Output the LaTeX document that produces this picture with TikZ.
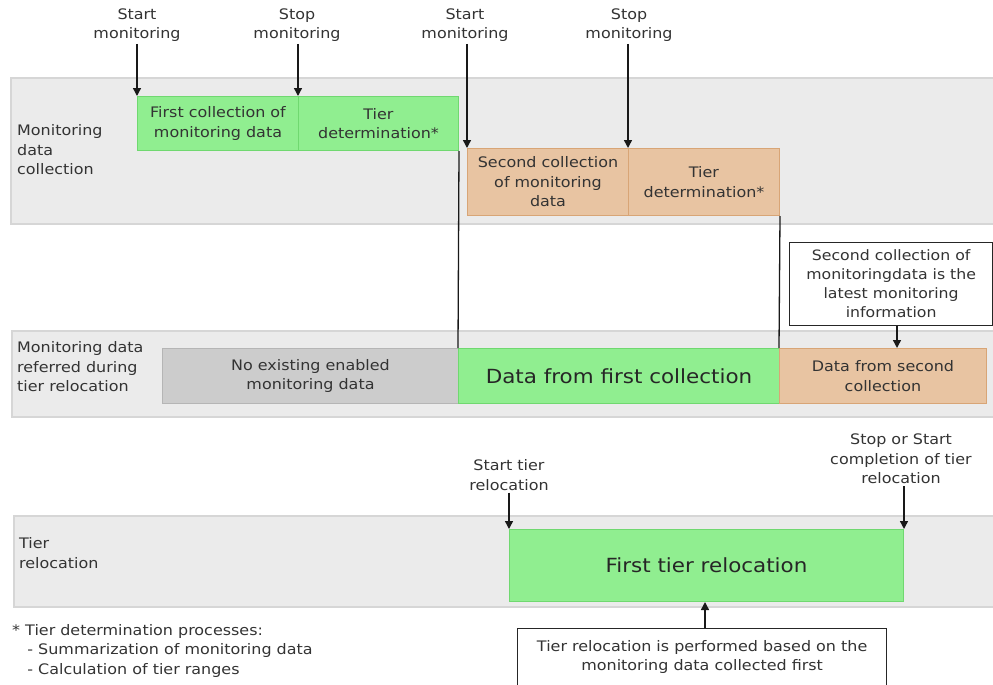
\documentclass[tikz,border=0pt]{standalone}
\usepackage{fontspec}
\setmainfont{DejaVu Sans}[FakeStretch=1.1]
\usetikzlibrary{arrows.meta}
\definecolor{txt}{HTML}{333333}
\definecolor{bandfill}{HTML}{EBEBEB}
\definecolor{bandline}{HTML}{D6D6D6}
\definecolor{gfill}{HTML}{90EE90}
\definecolor{gline}{HTML}{70D870}
\definecolor{ofill}{HTML}{E8C4A2}
\definecolor{oline}{HTML}{D8A576}
\definecolor{nfill}{HTML}{CCCCCC}
\definecolor{nline}{HTML}{B5B5B5}
\begin{document}
\begin{tikzpicture}[x=1pt,y=-1pt,
  every node/.style={font=\fontsize{14.5}{19.5}\selectfont, text=txt, inner sep=2pt},
  band/.style={fill=bandfill, draw=bandline, line width=1.2pt},
  boxbase/.style={anchor=north west, align=center, line width=1pt},
  gbox/.style={boxbase, fill=gfill, draw=gline},
  obox/.style={boxbase, fill=ofill, draw=oline},
  nbox/.style={boxbase, fill=nfill, draw=nline},
  callout/.style={anchor=north west, align=center, fill=white, draw=black!85, line width=1.3pt},
  lbl/.style={align=center},
  rowlbl/.style={align=left, anchor=west},
  bigtxt/.style={font=\fontsize{19.5}{24}\selectfont, text=black!85},
  arr/.style={-{Triangle[length=8pt,width=8pt]}, line width=1.4pt, black!90},
  vline/.style={line width=1.3pt, black!90}]
\useasboundingbox (0,0) rectangle (993,685);
\clip (0,0) rectangle (993,685);
% bands
\path[band] (11,78) rectangle (1000,224);
\path[band] (12,331) rectangle (1000,417);
\path[band] (14,516) rectangle (1000,607);
% row labels
\node[rowlbl] (r1) at (15,150) {Monitoring\\data\\collection};
\node[rowlbl] (r2) at (15,367) {Monitoring data\\referred during\\tier relocation};
\node[rowlbl] (r3) at (17,553) {Tier\\relocation};
% band 1 boxes
\node[gbox, minimum width=161pt, minimum height=54pt] (fc) at (137,96) {First collection of\\monitoring data};
\node[gbox, minimum width=160pt, minimum height=54pt] (td1) at (298,96) {Tier\\determination*};
\node[obox, minimum width=161pt, minimum height=67pt] (sc) at (467,148) {Second collection\\of monitoring\\data};
\node[obox, minimum width=151pt, minimum height=67pt] (td2) at (628,148) {Tier\\determination*};
% band 2 boxes
\node[nbox, minimum width=296pt, minimum height=55pt] (ne) at (162,348) {No existing enabled\\monitoring data};
\node[gbox, bigtxt, minimum width=321pt, minimum height=55pt] (df) at (458,348) {Data from first collection};
\node[obox, minimum width=207pt, minimum height=55pt] (ds) at (779,348) {Data from second\\collection};
% band 3 box
\node[gbox, bigtxt, minimum width=394pt, minimum height=72pt] (ftr) at (509,529) {First tier relocation};
% top labels
\node[lbl] (l1) at (137,25) {Start\\monitoring};
\node[lbl] (l2) at (297,25) {Stop\\monitoring};
\node[lbl] (l3) at (465,25) {Start\\monitoring};
\node[lbl] (l4) at (629,25) {Stop\\monitoring};
\draw[arr] (l1.south -| fc.north west) -- (fc.north west);
\draw[arr] (l2.south -| td1.north west) -- (td1.north west);
\draw[arr] (l3.south -| sc.north west) -- (sc.north west);
\draw[arr] (l4.south -| td2.north west) -- (td2.north west);
% vertical lines
\draw[vline] (td1.south east) -- (df.north west);
\draw[vline] (td2.south east) -- (ds.north west);
% callout 1
\node[callout, minimum width=203pt, minimum height=83pt, font=\fontsize{14.3}{19}\selectfont] (c1) at (789,242) {Second collection of\\monitoringdata is the\\latest monitoring\\information};
\draw[arr] (c1.south -| 897,0) -- (ds.north -| 897,0);
% tier relocation labels
\node[lbl] (l5) at (509,475) {Start tier\\relocation};
\node[lbl] (l6) at (901,459) {Stop or Start\\completion of tier\\relocation};
\draw[arr] (l5.south -| ftr.north west) -- (ftr.north west);
\draw[arr] (l6.south -| ftr.north east) -- (ftr.north east);
% bottom callout
\node[callout, minimum width=369pt, minimum height=70pt, anchor=north west, text depth=16pt] (c2) at (517,628) {Tier relocation is performed based on the\\monitoring data collected first};
\draw[arr] (c2.north -| 705,0) -- (ftr.south -| 705,0);
% footnote
\node[anchor=north west, align=left] (fn) at (10,622) {* Tier determination processes:\\\hspace*{1.05em}- Summarization of monitoring data\\\hspace*{1.05em}- Calculation of tier ranges};
\end{tikzpicture}
\end{document}
